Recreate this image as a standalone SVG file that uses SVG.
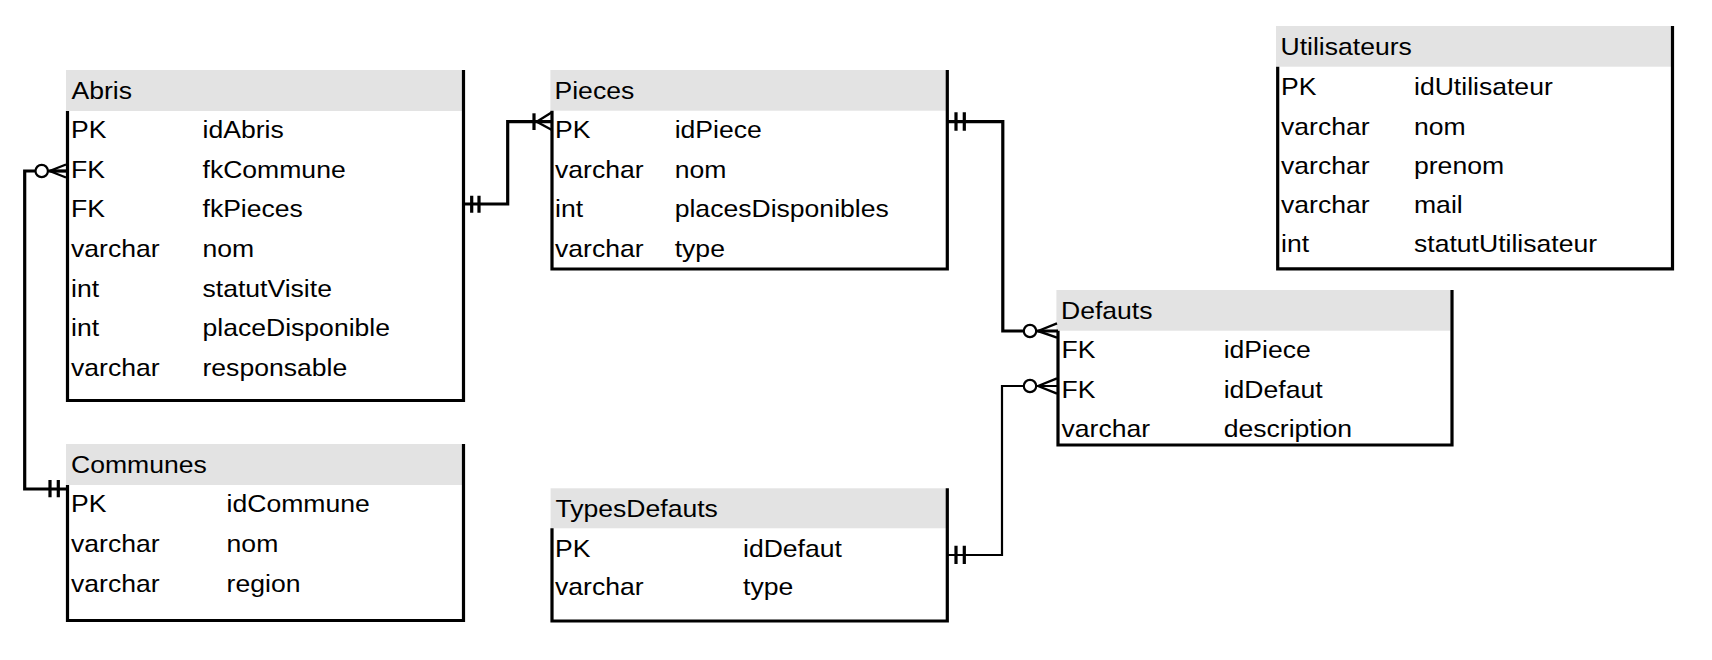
<svg xmlns="http://www.w3.org/2000/svg" width="1712" height="660" viewBox="0 0 1712 660">
<style>
.hdr{fill:#e3e3e3}
.bd{fill:none;stroke:#000;stroke-width:3.2;stroke-linejoin:miter}
text{font-family:"Liberation Sans",Arial,sans-serif;font-size:24.6px;fill:#000}
.c{fill:none;stroke:#000;stroke-width:3.2}
.c2{fill:none;stroke:#000;stroke-width:2.2}
.mk{stroke:#000;stroke-width:3.2;fill:none}
.cf{stroke:#000;stroke-width:2.4;fill:none}
.o{fill:#fff;stroke:#000;stroke-width:2.2}
</style>
<rect width="1712" height="660" fill="#fff"/>

<g id="Abris">
<rect class="hdr" x="66" y="70" width="396" height="41"/>
<path class="bd" d="M463.5 70V400.5H67.5V111"/>
<text transform="translate(71.5 99.3) scale(1.08 1)">Abris</text>
<text transform="translate(71 138.3) scale(1.08 1)">PK</text>
<text transform="translate(202.5 138.3) scale(1.08 1)">idAbris</text>
<text transform="translate(71 178) scale(1.08 1)">FK</text>
<text transform="translate(202.5 178) scale(1.08 1)">fkCommune</text>
<text transform="translate(71 217) scale(1.08 1)">FK</text>
<text transform="translate(202.5 217) scale(1.08 1)">fkPieces</text>
<text transform="translate(71 256.8) scale(1.08 1)">varchar</text>
<text transform="translate(202.5 256.8) scale(1.08 1)">nom</text>
<text transform="translate(71 296.5) scale(1.08 1)">int</text>
<text transform="translate(202.5 296.5) scale(1.08 1)">statutVisite</text>
<text transform="translate(71 336) scale(1.08 1)">int</text>
<text transform="translate(202.5 336) scale(1.08 1)">placeDisponible</text>
<text transform="translate(71 375.5) scale(1.08 1)">varchar</text>
<text transform="translate(202.5 375.5) scale(1.08 1)">responsable</text>
</g>

<g id="Communes">
<rect class="hdr" x="66" y="444" width="396" height="41"/>
<path class="bd" d="M463.5 444V620.5H67.5V485"/>
<text transform="translate(71 472.7) scale(1.08 1)">Communes</text>
<text transform="translate(71 511.7) scale(1.08 1)">PK</text>
<text transform="translate(226.6 511.7) scale(1.08 1)">idCommune</text>
<text transform="translate(71 551.7) scale(1.08 1)">varchar</text>
<text transform="translate(226.6 551.7) scale(1.08 1)">nom</text>
<text transform="translate(71 591.7) scale(1.08 1)">varchar</text>
<text transform="translate(226.6 591.7) scale(1.08 1)">region</text>
</g>

<g id="Pieces">
<rect class="hdr" x="550.4" y="70" width="395.5" height="40.7"/>
<path class="bd" d="M947.3 70V269H552V110.7"/>
<text transform="translate(554.5 99.3) scale(1.08 1)">Pieces</text>
<text transform="translate(555 138.3) scale(1.08 1)">PK</text>
<text transform="translate(674.7 138.3) scale(1.08 1)">idPiece</text>
<text transform="translate(555 178.3) scale(1.08 1)">varchar</text>
<text transform="translate(674.7 178.3) scale(1.08 1)">nom</text>
<text transform="translate(555 216.9) scale(1.08 1)">int</text>
<text transform="translate(674.7 216.9) scale(1.08 1)">placesDisponibles</text>
<text transform="translate(555 256.7) scale(1.08 1)">varchar</text>
<text transform="translate(674.7 256.7) scale(1.08 1)">type</text>
</g>

<g id="Defauts">
<rect class="hdr" x="1056.4" y="290" width="394" height="40.7"/>
<path class="bd" d="M1452 290V445H1058V330.7"/>
<text transform="translate(1061 319.3) scale(1.08 1)">Defauts</text>
<text transform="translate(1061.5 358.3) scale(1.08 1)">FK</text>
<text transform="translate(1223.7 358.3) scale(1.08 1)">idPiece</text>
<text transform="translate(1061.5 398) scale(1.08 1)">FK</text>
<text transform="translate(1223.7 398) scale(1.08 1)">idDefaut</text>
<text transform="translate(1061.5 436.8) scale(1.08 1)">varchar</text>
<text transform="translate(1223.7 436.8) scale(1.08 1)">description</text>
</g>

<g id="TypesDefauts">
<rect class="hdr" x="550.6" y="488.3" width="395.3" height="40"/>
<path class="bd" d="M947.3 488.3V621H552V528.3"/>
<text transform="translate(555.5 516.7) scale(1.08 1)">TypesDefauts</text>
<text transform="translate(555 556.7) scale(1.08 1)">PK</text>
<text transform="translate(743 556.7) scale(1.08 1)">idDefaut</text>
<text transform="translate(555 595.3) scale(1.08 1)">varchar</text>
<text transform="translate(743 595.3) scale(1.08 1)">type</text>
</g>

<g id="Utilisateurs">
<rect class="hdr" x="1276" y="26" width="395" height="40.7"/>
<path class="bd" d="M1672.5 26V268.8H1277.7V66.7"/>
<text transform="translate(1280.5 55) scale(1.08 1)">Utilisateurs</text>
<text transform="translate(1281 95) scale(1.08 1)">PK</text>
<text transform="translate(1414 95) scale(1.08 1)">idUtilisateur</text>
<text transform="translate(1281 134.5) scale(1.08 1)">varchar</text>
<text transform="translate(1414 134.5) scale(1.08 1)">nom</text>
<text transform="translate(1281 173.5) scale(1.08 1)">varchar</text>
<text transform="translate(1414 173.5) scale(1.08 1)">prenom</text>
<text transform="translate(1281 213) scale(1.08 1)">varchar</text>
<text transform="translate(1414 213) scale(1.08 1)">mail</text>
<text transform="translate(1281 252) scale(1.08 1)">int</text>
<text transform="translate(1414 252) scale(1.08 1)">statutUtilisateur</text>
</g>

<g id="connectors">
<!-- Abris.fkCommune -> Communes.PK -->
<path class="c" d="M66 171H24.7V489H66"/>
<circle class="o" cx="41.7" cy="171" r="6.2"/>
<path class="cf" d="M49.5 171L66 164.5M49.5 171L66 177.5M49.5 171H66"/>
<path class="mk" d="M50 480V497.3M58.3 480V497.3"/>

<!-- Abris.fkPieces -> Pieces.PK -->
<path class="c" d="M463.5 204H507.7V121.7H552"/>
<path class="mk" d="M471.7 195.7V212.7M479 195.7V212.7"/>
<path class="mk" d="M534 113.3V130"/>
<path class="cf" d="M536.7 121.7L551.5 112.5M536.7 121.7L551.5 129.8"/>

<!-- Pieces.PK -> Defauts.idPiece -->
<path class="c" d="M947.3 121.7H1002.8V331H1058"/>
<path class="mk" d="M956 112.3V130.7M964.3 112.3V130.7"/>
<circle class="o" cx="1030" cy="331" r="6.2"/>
<path class="cf" d="M1038 331L1057 323.3M1038 331L1057 337.7"/>

<!-- TypesDefauts.PK -> Defauts.idDefaut -->
<path class="c2" d="M947.3 555H1002V386H1058"/>
<path class="mk" d="M956 545.7V564M964.3 545.7V564"/>
<circle class="o" cx="1030" cy="386" r="6.2"/>
<path class="cf" d="M1038 386L1057 378.3M1038 386L1057 393.7"/>
</g>
</svg>
